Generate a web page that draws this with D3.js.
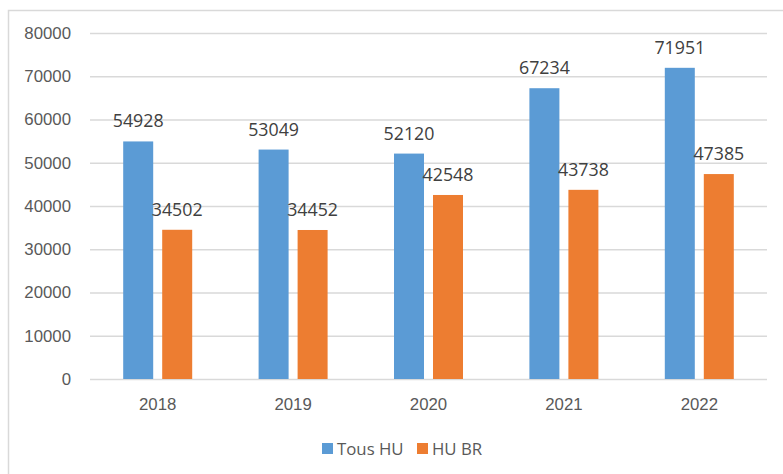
<!DOCTYPE html>
<html>
<head>
<meta charset="utf-8">
<script src="https://cdn.jsdelivr.net/npm/d3@7"></script>
<style>
  body { margin: 0; background: #fff; }
  svg { display: block; font-family: "Open Sans", "Liberation Sans", Arial, sans-serif; }
</style>
</head>
<body>
<svg id="chart" width="783" height="474"></svg>
<script>
// data
const years = ["2018", "2019", "2020", "2021", "2022"];
const tousHU = [54928, 53049, 52120, 67234, 71951];
const huBR = [34502, 34452, 42548, 43738, 47385];
const seriesNames = ["Tous HU", "HU BR"];
const colors = ["#5b9bd5", "#ed7d31"];
const yTicks = [0, 10000, 20000, 30000, 40000, 50000, 60000, 70000, 80000];

const width = 783, height = 474;
const marginTop = 33, marginBottom = 95, marginLeft = 90, marginRight = 16;

const svg = d3.select("#chart");

// outer frame
svg.append("rect")
  .attr("x", 8.5).attr("y", 10.5)
  .attr("width", width + 10).attr("height", height + 10)
  .attr("fill", "none").attr("stroke", "#d9d9d9").attr("stroke-width", 1.5);

const x = d3.scaleBand()
  .domain(years)
  .range([marginLeft, width - marginRight]);

const y = d3.scaleLinear()
  .domain([0, 80000])
  .range([height - marginBottom, marginTop]);

const barW = 30, gap = 9;
const x1 = d3.scaleOrdinal()
  .domain(seriesNames)
  .range([-(barW + gap / 2), gap / 2]);

// gridlines + tick labels
const yAxis = svg.append("g")
  .attr("transform", `translate(${marginLeft},0)`)
  .call(d3.axisLeft(y).tickValues(yTicks).tickSize(-(width - marginLeft - marginRight)).tickPadding(19).tickFormat(d3.format("d")));
yAxis.select(".domain").remove();
yAxis.selectAll(".tick line").attr("stroke", "#d9d9d9").attr("stroke-width", 1.5);
yAxis.selectAll(".tick text").attr("fill", "#595959").style("font-size", "16.8px");

// x axis labels
const xAxis = svg.append("g")
  .attr("transform", `translate(0,${height - marginBottom})`)
  .call(d3.axisBottom(x).tickSize(0).tickPadding(19));
xAxis.select(".domain").remove();
xAxis.selectAll(".tick text").attr("fill", "#595959").style("font-size", "16.8px");

const rows = years.map((yr, i) => ({ year: yr, values: [tousHU[i], huBR[i]] }));

const groups = svg.append("g")
  .selectAll("g")
  .data(rows)
  .join("g")
    .attr("transform", d => `translate(${x(d.year) + x.bandwidth() / 2},0)`);

groups.selectAll("rect")
  .data(d => d.values.map((v, j) => ({ key: seriesNames[j], value: v, j })))
  .join("rect")
    .attr("x", d => x1(d.key))
    .attr("y", d => y(d.value))
    .attr("width", barW)
    .attr("height", d => y(0) - y(d.value))
    .attr("fill", d => colors[d.j]);

groups.selectAll("text")
  .data(d => d.values.map((v, j) => ({ key: seriesNames[j], value: v })))
  .join("text")
    .attr("x", d => x1(d.key) + barW / 2)
    .attr("y", d => y(d.value) - 14)
    .attr("text-anchor", "middle")
    .attr("fill", "#404040")
    .style("font-size", "17.8px")
    .text(d => d.value);

// legend
const legend = svg.append("g").attr("transform", "translate(322,443)");
const items = legend.selectAll("g")
  .data(seriesNames)
  .join("g")
    .attr("transform", (d, i) => `translate(${i * 95},0)`);
items.append("rect")
  .attr("width", 11).attr("height", 11)
  .attr("fill", (d, i) => colors[i]);
items.append("text")
  .attr("x", 15).attr("y", 11.5)
  .attr("fill", "#595959")
  .style("font-size", "16.8px")
  .text(d => d);
</script>
</body>
</html>
